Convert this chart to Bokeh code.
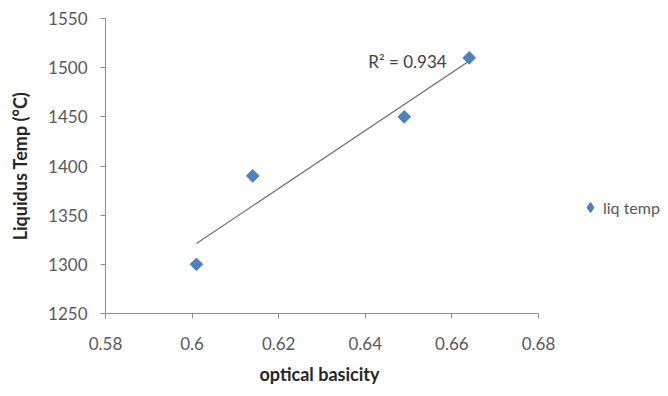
from bokeh.plotting import figure
from bokeh.models import Range1d, FixedTicker, Legend, LegendItem, Label, Title
from bokeh.embed import file_html
from bokeh.resources import INLINE
import numpy as np

# Measured liquidus temperature against optical basicity
optical_basicity = [0.601, 0.614, 0.649, 0.664]
liq_temp = [1300, 1390, 1450, 1510]
r_squared_text = "R\u00b2 = 0.934"

x_ticks = [0.58, 0.60, 0.62, 0.64, 0.66, 0.68]
x_tick_labels = ["0.58", "0.6", "0.62", "0.64", "0.66", "0.68"]
y_ticks = [1250, 1300, 1350, 1400, 1450, 1500, 1550]

FONT = "Lato"
AXIS_GREY = "#8c8c8c"
TEXT_GREY = "#595959"
BLUE = "#4f81bd"

# The frame runs to the right edge so the legend can sit beside the plotted
# area; the x axis itself is bounded to 0.58-0.68.
W, H = 668, 396
LEFT, TOP, BOTTOM = 105, 18, 83
AXIS_PX = 433
x_end = 0.58 + (W - LEFT) / AXIS_PX * 0.10

p = figure(width=W, height=H, output_backend="svg", toolbar_location=None,
           x_range=Range1d(0.58, x_end), y_range=Range1d(1250, 1550),
           min_border_left=LEFT, min_border_right=0,
           min_border_top=TOP, min_border_bottom=BOTTOM)
p.outline_line_color = None
p.xgrid.visible = False
p.ygrid.visible = False

# axes
for ax in (p.xaxis[0], p.yaxis[0]):
    ax.axis_line_color = AXIS_GREY
    ax.major_tick_line_color = AXIS_GREY
    ax.minor_tick_line_color = None
    ax.major_tick_in = 0
    ax.major_tick_out = 5
    ax.major_label_text_font = FONT
    ax.major_label_text_font_size = "17px"
    ax.major_label_text_color = TEXT_GREY

p.xaxis.bounds = (0.58, 0.68)
p.xaxis.ticker = FixedTicker(ticks=x_ticks)
p.xaxis.major_label_overrides = {t: l for t, l in zip(x_ticks, x_tick_labels)}
p.xaxis.major_label_standoff = 18

p.yaxis.ticker = FixedTicker(ticks=y_ticks)
p.yaxis.axis_label = "Liquidus Temp (\u00b0C)"
p.yaxis.axis_label_text_font = FONT
p.yaxis.axis_label_text_font_style = "bold"
p.yaxis.axis_label_text_color = "#262626"
p.yaxis.axis_label_text_font_size = "18px"
p.yaxis.major_label_standoff = 13
p.yaxis.axis_label_standoff = 14

# x axis title, centred under the bounded axis rather than the whole frame
p.add_layout(Title(text="optical basicity", align="left", offset=154, standoff=17,
                   text_font=FONT, text_font_style="bold", text_font_size="18px",
                   text_color="#262626"), "below")

# linear trendline across the data span
slope, intercept = np.polyfit(optical_basicity, liq_temp, 1)
xs = [min(optical_basicity), max(optical_basicity)]
p.line(xs, [slope * x + intercept for x in xs], line_color="#6f6a66", line_width=1.2)

# data points as square-on-corner markers
p.scatter(optical_basicity, liq_temp, marker="square", size=9, angle=np.pi / 4,
          fill_color=BLUE, line_color=BLUE)

# diamond renderer with a single undefined point: it draws nothing in the
# frame and only supplies the legend key
key = p.scatter(x=[np.nan], y=[np.nan], marker="diamond",
                fill_color=BLUE, line_color=BLUE)

p.add_layout(Label(x=0.6407, y=1506, text=r_squared_text, text_font=FONT,
                   text_font_size="17px", text_color="#404040",
                   text_baseline="middle", text_align="left"))

legend = Legend(items=[LegendItem(label="liq temp", renderers=[key])],
                location=(472, 93), border_line_color=None,
                background_fill_alpha=0, padding=0, margin=0,
                glyph_width=26, glyph_height=26, label_standoff=0,
                label_text_font=FONT, label_text_font_size="16px",
                label_text_color=TEXT_GREY)
p.add_layout(legend, "center")

open("out.html", "w").write(file_html(p, INLINE))
